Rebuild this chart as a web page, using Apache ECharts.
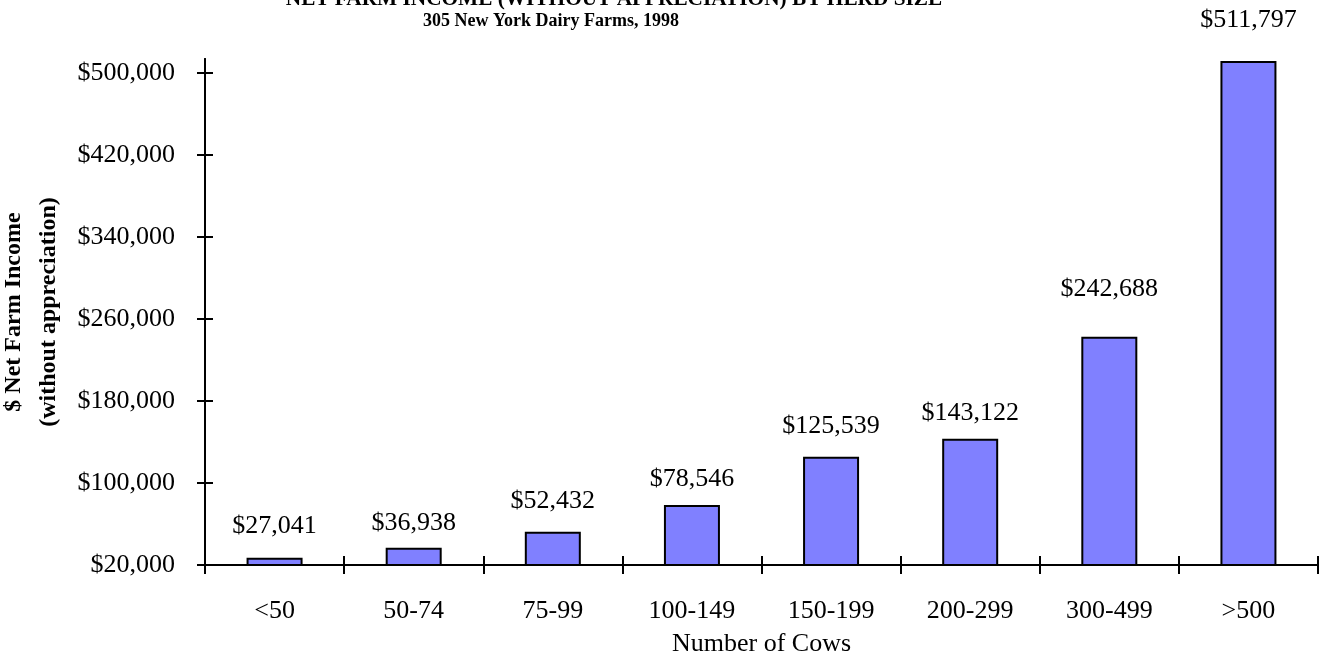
<!DOCTYPE html>
<html>
<head>
<meta charset="utf-8">
<script src="https://cdn.jsdelivr.net/npm/echarts@6/dist/echarts.min.js"></script>
<style>
  html, body { margin: 0; padding: 0; background: #fff; }
  #main { width: 1328px; height: 659px; }
</style>
</head>
<body>
<div id="main"></div>
<script>
// herd size groups and average net farm income (without appreciation)
var herdSizes = ['<50', '50-74', '75-99', '100-149', '150-199', '200-299', '300-499', '>500'];
var netIncome = [27041, 36938, 52432, 78546, 125539, 143122, 242688, 511797];
var yTicks = [20000, 100000, 180000, 260000, 340000, 420000, 500000];

// gap between bar top and its value label (the original has uneven spacing)
var labelGap = [19, 11, 18, 13, 18, 13, 35, 28];

var serif = "'Liberation Serif', 'Times New Roman', serif";

function money(v) {
  return '$' + Number(v).toLocaleString('en-US');
}

var myChart = echarts.init(document.getElementById('main'));

var barData = netIncome.map(function (v, i) {
  return { value: v, label: { distance: labelGap[i] } };
});

var tickStyle = { color: '#000', width: 2 };

var option = {
  animation: false,
  grid: { left: 205, right: 10, top: 59, bottom: 94, outerBoundsMode: 'none', containLabel: false },
  graphic: [
    {
      type: 'text', x: 614, y: -11,
      style: {
        text: 'NET FARM INCOME (WITHOUT APPRECIATION) BY HERD SIZE',
        align: 'center', fontFamily: serif, fontSize: 21.3, fontWeight: 'bold', fill: '#000'
      }
    },
    {
      type: 'text', x: 551, y: 12,
      style: {
        text: '305 New York Dairy Farms, 1998',
        align: 'center', fontFamily: serif, fontSize: 18, fontWeight: 'bold', fill: '#000'
      }
    }
  ],
  xAxis: [
    {
      type: 'category',
      data: herdSizes,
      position: 'bottom',
      offset: 0,
      name: 'Number of Cows',
      nameLocation: 'middle',
      nameGap: 66,
      nameTextStyle: { fontFamily: serif, fontSize: 26, color: '#000' },
      axisLine: { show: true, lineStyle: { color: '#000', width: 2 } },
      axisTick: { show: true, length: 9, lineStyle: tickStyle },
      axisLabel: { fontFamily: serif, fontSize: 26, color: '#000', margin: 33 }
    },
    {
      // second copy only to draw the inner half of the crossing ticks
      type: 'category',
      data: herdSizes,
      position: 'bottom',
      offset: 0,
      axisLine: { show: true, lineStyle: { color: '#000', width: 2 } },
      axisTick: { show: true, inside: true, length: 9, lineStyle: tickStyle },
      axisLabel: { show: false }
    }
  ],
  yAxis: [
    {
      type: 'value',
      position: 'left',
      offset: 0,
      min: 20000,
      max: 513700,
      name: '$ Net Farm Income\n(without appreciation)',
      nameLocation: 'middle',
      nameGap: 131,
      nameTextStyle: { fontFamily: serif, fontSize: 24, fontWeight: 'bold', color: '#000', lineHeight: 35 },
      splitLine: { show: false },
      axisLine: { show: true, lineStyle: { color: '#000', width: 2 } },
      axisTick: { show: true, length: 8, customValues: yTicks, lineStyle: tickStyle },
      axisLabel: { fontFamily: serif, fontSize: 26, color: '#000', margin: 30, customValues: yTicks, formatter: money }
    },
    {
      type: 'value',
      position: 'left',
      offset: 0,
      min: 20000,
      max: 513700,
      splitLine: { show: false },
      axisLine: { show: true, lineStyle: { color: '#000', width: 2 } },
      axisTick: { show: true, inside: true, length: 8, customValues: yTicks, lineStyle: tickStyle },
      axisLabel: { show: false, customValues: yTicks }
    }
  ],
  series: [{
    name: 'Net Farm Income',
    type: 'bar',
    data: barData,
    barWidth: 56,
    itemStyle: { color: '#8080ff', borderColor: '#000', borderWidth: 2 },
    label: {
      show: true,
      position: 'top',
      fontFamily: serif,
      fontSize: 26,
      color: '#000',
      formatter: function (p) { return money(p.value); }
    }
  }]
};

myChart.setOption(option);
</script>
</body>
</html>
